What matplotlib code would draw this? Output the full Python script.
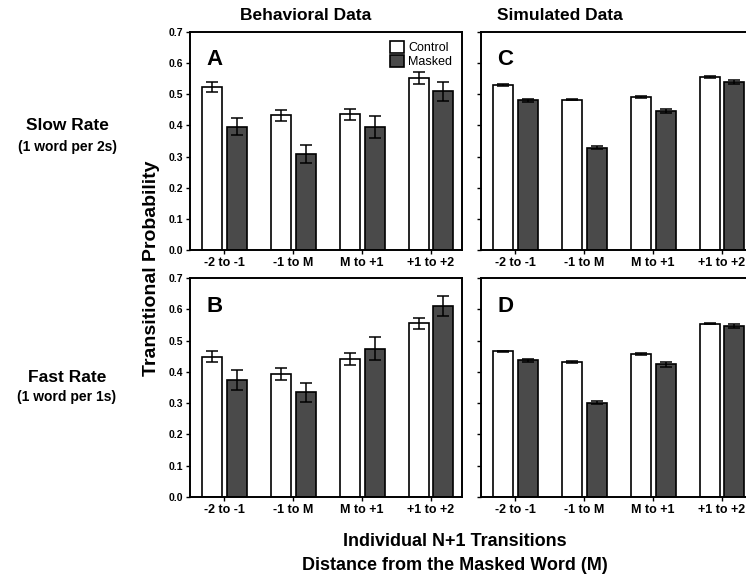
import numpy as np
import matplotlib
matplotlib.use('Agg')
import matplotlib.pyplot as plt

plt.rcParams['font.family'] = ['Liberation Sans', 'DejaVu Sans']

categories = ['-2 to -1', '-1 to M', 'M to +1', '+1 to +2']

# Behavioral data, slow rate (panel A)
a_control = [0.523, 0.432, 0.436, 0.552]
a_control_err = [0.015, 0.018, 0.017, 0.018]
a_masked = [0.396, 0.308, 0.395, 0.509]
a_masked_err = [0.027, 0.029, 0.035, 0.032]

# Simulated data, slow rate (panel C)
c_control = [0.531, 0.483, 0.492, 0.556]
c_control_err = [0.003, 0.002, 0.003, 0.003]
c_masked = [0.481, 0.328, 0.446, 0.540]
c_masked_err = [0.005, 0.005, 0.006, 0.006]

# Behavioral data, fast rate (panel B)
b_control = [0.448, 0.394, 0.440, 0.555]
b_control_err = [0.018, 0.019, 0.019, 0.017]
b_masked = [0.374, 0.335, 0.474, 0.609]
b_masked_err = [0.031, 0.030, 0.036, 0.032]

# Simulated data, fast rate (panel D)
d_control = [0.466, 0.432, 0.456, 0.554]
d_control_err = [0.002, 0.003, 0.003, 0.002]
d_masked = [0.437, 0.302, 0.424, 0.546]
d_masked_err = [0.005, 0.006, 0.007, 0.006]

yticks = [0.0, 0.1, 0.2, 0.3, 0.4, 0.5, 0.6, 0.7]

W, H = 746, 577
fig = plt.figure(figsize=(W / 100, H / 100), dpi=100)


def px_axes(x0, y0, x1, y1):
    return fig.add_axes([x0 / W, 1 - y1 / H, (x1 - x0) / W, (y1 - y0) / H])


masked_color = '#4a4a4a'
bw = 0.29
off = 0.18


def draw_panel(ax, ctrl, ctrl_err, msk, msk_err, letter, show_ylabels, legend=False):
    x = np.arange(len(categories))
    ax.bar(x - off, ctrl, bw, color='white', edgecolor='black', linewidth=1.2,
           label='Control', zorder=2)
    ax.bar(x + off, msk, bw, color=masked_color, edgecolor='black', linewidth=1.2,
           label='Masked', zorder=2)
    ax.errorbar(x - off, ctrl, yerr=ctrl_err, fmt='none', ecolor='black',
                elinewidth=1.1, capsize=4, capthick=1.1, zorder=3)
    ax.errorbar(x + off, msk, yerr=msk_err, fmt='none', ecolor='black',
                elinewidth=1.1, capsize=4, capthick=1.1, zorder=3)
    ax.set_xlim(-0.5, 3.45)
    ax.set_ylim(0, 0.7)
    ax.set_xticks(x)
    ax.set_xticklabels(categories, fontsize=9, fontweight='bold')
    ax.set_yticks(yticks)
    if show_ylabels:
        ax.set_yticklabels(['%.1f' % v for v in yticks], fontsize=7.5, fontweight='bold')
    else:
        ax.set_yticklabels([])
    ax.tick_params(axis='both', direction='out', length=3, width=1.0, pad=2)
    for s in ax.spines.values():
        s.set_linewidth(1.4)
    ax.text(0.06, 0.92, letter, transform=ax.transAxes, fontsize=16,
            fontweight='bold', va='top', ha='left')
    if legend:
        ax.legend(loc='upper right', frameon=False, fontsize=9,
                  handlelength=1.1, handleheight=1.1, handletextpad=0.35,
                  labelspacing=0.05, borderaxespad=0.3, bbox_to_anchor=(0.995, 1.0))


ax_a = px_axes(190, 32, 462, 250)
ax_c = px_axes(481, 32, 753, 250)
ax_b = px_axes(190, 278, 462, 497)
ax_d = px_axes(481, 278, 753, 497)

draw_panel(ax_a, a_control, a_control_err, a_masked, a_masked_err, 'A', True, legend=True)
draw_panel(ax_c, c_control, c_control_err, c_masked, c_masked_err, 'C', False)
draw_panel(ax_b, b_control, b_control_err, b_masked, b_masked_err, 'B', True)
draw_panel(ax_d, d_control, d_control_err, d_masked, d_masked_err, 'D', False)


def ftext(x, y, s, **kw):
    fig.text(x / W, 1 - y / H, s, ha='center', va='center', fontweight='bold', **kw)


ftext(306, 16, 'Behavioral Data', fontsize=12.5)
ftext(560, 16, 'Simulated Data', fontsize=12.5)
ftext(67, 126, 'Slow Rate', fontsize=12.5)
ftext(67, 147, '(1 word per 2s)', fontsize=10)
ftext(67, 377, 'Fast Rate', fontsize=12.5)
ftext(67, 397, '(1 word per 1s)', fontsize=10)
ftext(151, 268, 'Transitional Probability', fontsize=14, rotation=90)
ftext(455, 542, 'Individual N+1 Transitions', fontsize=13)
ftext(455, 566, 'Distance from the Masked Word (M)', fontsize=13)

fig.savefig('out.png', dpi=100)
